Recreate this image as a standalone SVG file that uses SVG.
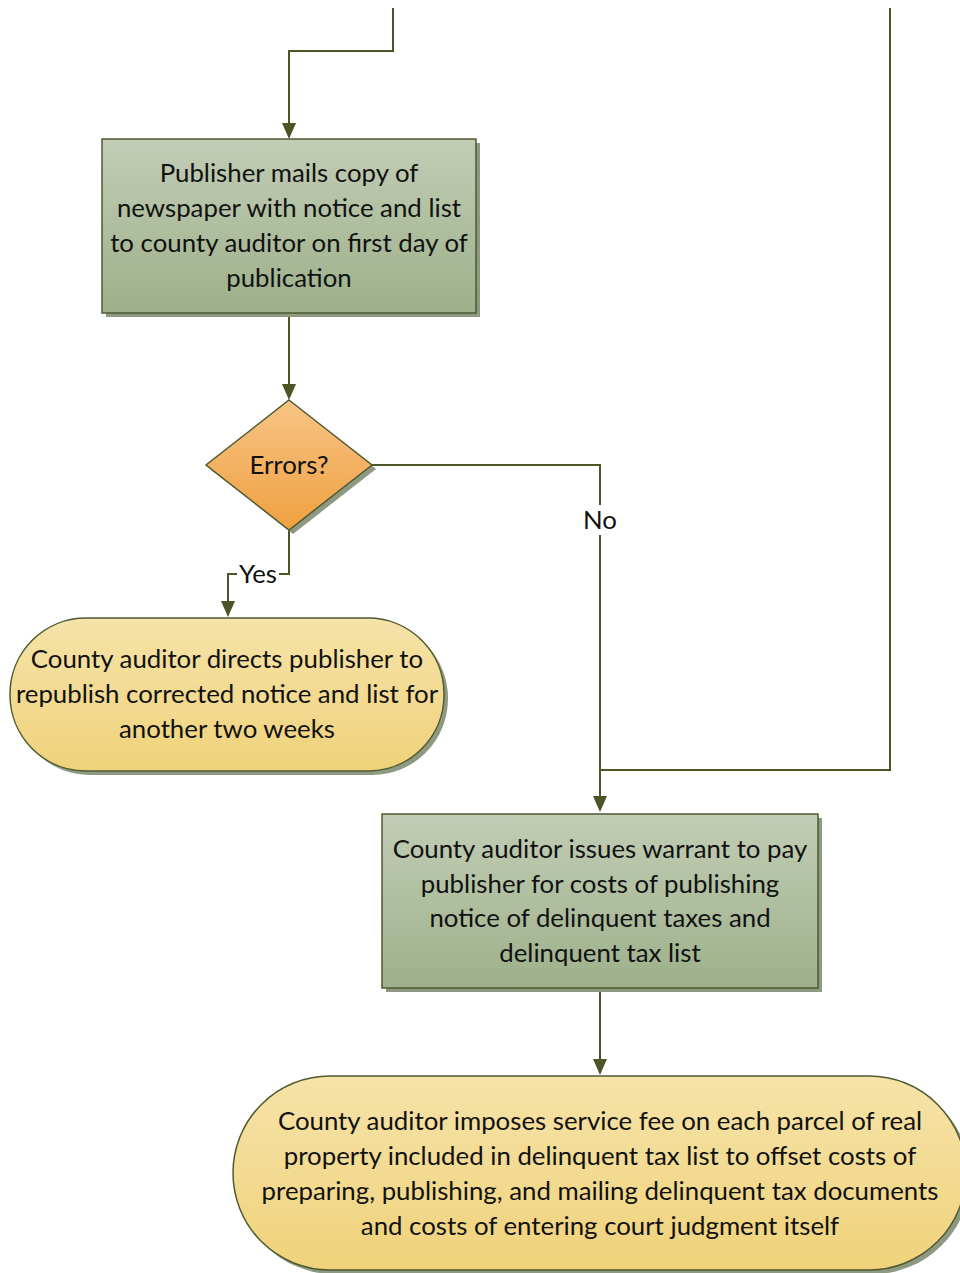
<svg xmlns="http://www.w3.org/2000/svg" width="960" height="1273" viewBox="0 0 960 1273">
<defs>
<linearGradient id="gGreen" x1="0" y1="0" x2="0" y2="1"><stop offset="0" stop-color="#c2cdb5"/><stop offset="1" stop-color="#9db08a"/></linearGradient>
<linearGradient id="gOrange" x1="0" y1="0" x2="0" y2="1"><stop offset="0" stop-color="#f7c486"/><stop offset="1" stop-color="#f0a040"/></linearGradient>
<linearGradient id="gYellow" x1="0" y1="0" x2="0" y2="1"><stop offset="0" stop-color="#f6e3a9"/><stop offset="1" stop-color="#efd27a"/></linearGradient>
<style>
.ln{fill:none;stroke:#4b5526;stroke-width:2}
.ah{fill:#4b5526}
.shape{stroke:#4f5a30;stroke-width:1.5}
.sh{fill:#8d9980}
.t{font-family:Lato,"Liberation Sans",sans-serif;font-size:25.8px;fill:#111;text-anchor:middle}
.lbl{fill:#fff}
</style>
</defs>
<g id="connectors">
<path class="ln" d="M393,8 V51 H289 V123"/>
<path class="ln" d="M890,8 V770 H600"/>
<path class="ln" d="M289,313 V384"/>
<path class="ln" d="M289,530 V574 H228 V601"/>
<path class="ln" d="M372,465 H600 V796"/>
<path class="ln" d="M600,988 V1059"/>
<path class="ah" d="M282,123 L296,123 L289,139 Z"/>
<path class="ah" d="M282,384 L296,384 L289,400 Z"/>
<path class="ah" d="M221,601 L235,601 L228,617 Z"/>
<path class="ah" d="M593,796 L607,796 L600,812 Z"/>
<path class="ah" d="M593,1059 L607,1059 L600,1075 Z"/>
<rect class="lbl" x="237" y="561" width="42" height="26"/>
<text class="t" x="258" y="583">Yes</text>
<rect class="lbl" x="582" y="505" width="36" height="30"/>
<text class="t" x="600" y="529">No</text>
</g>
<g id="node-publisher">
<rect class="sh" x="106" y="143" width="374" height="174"/>
<rect class="shape" x="102" y="139" width="374" height="174" fill="url(#gGreen)"/>
<text class="t" x="289" y="182">Publisher mails copy of</text>
<text class="t" x="289" y="217">newspaper with notice and list</text>
<text class="t" x="289" y="252">to county auditor on first day of</text>
<text class="t" x="289" y="287">publication</text>
</g>
<g id="node-errors">
<path class="sh" d="M293,404 L376,469 L293,534 L210,469 Z"/>
<path class="shape" d="M289,400 L372,465 L289,530 L206,465 Z" fill="url(#gOrange)"/>
<text class="t" x="289" y="474">Errors?</text>
</g>
<g id="node-republish">
<rect class="sh" x="14" y="622" width="434" height="153" rx="76" ry="76"/>
<rect class="shape" x="10" y="618" width="434" height="153" rx="76" ry="76" fill="url(#gYellow)"/>
<text class="t" x="227" y="668">County auditor directs publisher to</text>
<text class="t" x="227" y="703">republish corrected notice and list for</text>
<text class="t" x="227" y="738">another two weeks</text>
</g>
<g id="node-warrant">
<rect class="sh" x="386" y="818" width="436" height="174"/>
<rect class="shape" x="382" y="814" width="436" height="174" fill="url(#gGreen)"/>
<text class="t" x="600" y="858">County auditor issues warrant to pay</text>
<text class="t" x="600" y="893">publisher for costs of publishing</text>
<text class="t" x="600" y="927">notice of delinquent taxes and</text>
<text class="t" x="600" y="962">delinquent tax list</text>
</g>
<g id="node-fee">
<rect class="sh" x="237" y="1080" width="733" height="194" rx="97" ry="97"/>
<rect class="shape" x="233" y="1076" width="733" height="194" rx="97" ry="97" fill="url(#gYellow)"/>
<text class="t" x="600" y="1130">County auditor imposes service fee on each parcel of real</text>
<text class="t" x="600" y="1165">property included in delinquent tax list to offset costs of</text>
<text class="t" x="600" y="1200">preparing, publishing, and mailing delinquent tax documents</text>
<text class="t" x="600" y="1235">and costs of entering court judgment itself</text>
</g>
</svg>
